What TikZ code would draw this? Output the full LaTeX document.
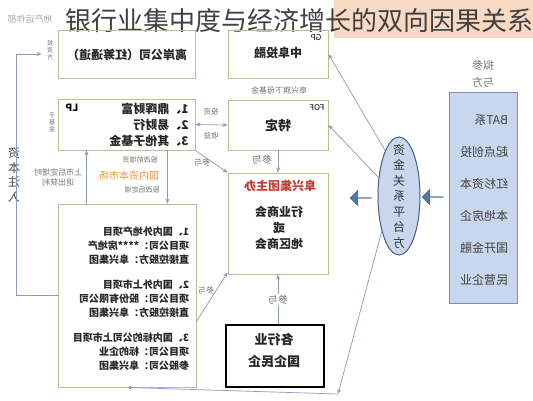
\documentclass[tikz,border=0pt]{standalone}
\usepackage{fontspec}
\setmainfont{Noto Sans CJK SC}
\usetikzlibrary{arrows.meta,shapes.geometric,shapes.arrows}

\definecolor{oliveb}{RGB}{190,190,140}
\definecolor{linkb}{RGB}{135,155,190}
\definecolor{paleb}{RGB}{200,215,238}
\definecolor{edgeb}{RGB}{70,95,130}
\definecolor{arrowb}{RGB}{75,120,175}
\definecolor{peach}{RGB}{248,218,196}
\definecolor{redt}{RGB}{200,60,50}
\definecolor{orangt}{RGB}{235,150,60}

\begin{document}
\begin{tikzpicture}[x=1pt,y=-1pt,
    flip/.style={xscale=-1},
    pane/.style={draw=oliveb, line width=0.9pt, inner sep=0pt},
    boxtxt/.style={flip, font=\bfseries\fontsize{12}{16}\selectfont, align=center, text=black!85},
    note/.style={flip, font=\fontsize{8}{10}\selectfont, text=black!55, align=center},
    link/.style={draw=linkb, line width=0.7pt, -{Stealth[length=5pt,width=4pt]}},
    twoway/.style={link, {Stealth[length=5pt,width=4pt]}-{Stealth[length=5pt,width=4pt]}},
    fat/.style={single arrow, fill=arrowb, draw=edgeb, minimum height=21pt, minimum width=15pt,
        single arrow head extend=3pt, inner sep=0pt, shape border rotate=180}
]
\fill[white] (0,0) rectangle (533,400);
\useasboundingbox (0,0) rectangle (533,400);

% Title
\fill[peach] (334,0) rectangle (533,38);
\node[text=black!35, flip, font=\fontsize{9}{10}\selectfont] (ghost) at (30,19) {地产运作部};
\node[text=black!75, font=\fontsize{26}{30}\selectfont, inner sep=0pt] (title) at (299,21) {银行业集中度与经济增长的双向因果关系};

% Boxes
\node[pane, minimum width=137, minimum height=48] (boxA) at (126.5,54) {};
\node[pane, minimum width=100, minimum height=48] (boxB) at (278,54) {};
\node[pane, minimum width=100, minimum height=50] (boxC) at (278,125) {};
\node[pane, minimum width=137, minimum height=51] (boxD) at (126.5,124.5) {};
\node[pane, minimum width=100, minimum height=101] (boxE) at (278,223.5) {};
\node[pane, minimum width=138, minimum height=183] (boxF) at (127,295.5) {};
\node[draw=black, line width=1.5pt, inner sep=0pt, minimum width=98, minimum height=62] (boxH) at (275,356) {};
\node[draw=edgeb!70, fill=paleb, line width=0.8pt, inner sep=0pt, minimum width=68, minimum height=211] (boxG) at (483,197.5) {};
\node[ellipse, draw=edgeb, fill=paleb, line width=1pt, inner sep=0pt, minimum width=42, minimum height=118] (hub) at (399,196) {};

% Box texts
\node[boxtxt] (txtA) at (127,55) {离岸公司（红筹通道）};
\node[boxtxt] (txtB) at (278,53) {中阜投融};
\node[flip, font=\fontsize{8}{9}\selectfont] (gp) at (316,38) {GP};
\node[note] (fofnote) at (279,90) {阜兴旗下母基金};
\node[flip, font=\fontsize{8}{9}\selectfont] (fof) at (317,108) {FOF};
\node[boxtxt, font=\bfseries\fontsize{13}{15}\selectfont] (txtC) at (278,125) {特定};
\node[flip, font=\bfseries\fontsize{10}{12}\selectfont] (lp) at (72,108) {LP};
\node[boxtxt, align=left] (txtD) at (149,125) {1、鼎晖财富\\2、易财行\\3、其他子基金};
\node[text=redt, flip, font=\bfseries\fontsize{12}{14}\selectfont] (txtEhead) at (280,186) {阜兴集团主办};
\node[boxtxt] (txtE) at (279,228) {行业商会\\或\\地区商会};
\node[boxtxt, align=left, font=\bfseries\fontsize{10}{14}\selectfont] (txtF) at (131,299)
    {1、国内外地产项目\\项目公司：****房地产\\直接控股方：阜兴集团\\[11pt]
     2、国内外上市项目\\项目公司：股份有限公司\\直接控股方：阜兴集团\\[11pt]
     3、国内标的公司上市项目\\项目公司：标的企业\\参股公司：阜兴集团};
\node[boxtxt, font=\bfseries\fontsize{13}{22}\selectfont] (txtH) at (274,351) {各行业\\国企民企};
\node[flip, align=left, text=black!75, font=\fontsize{12}{32}\selectfont] (txtG) at (484,200)
    {BAT系\\起点创投\\红杉资本\\本地房企\\国开金融\\民营企业};
\node[note, font=\fontsize{11}{17}\selectfont] (party) at (483,74) {拟参\\与方};
\node[flip, align=center, text=black!80, font=\fontsize{12}{15.5}\selectfont] (hubtxt) at (399,196) {资\\金\\关\\系\\平\\台\\方};

% Side labels
\node[note, font=\fontsize{6}{7}\selectfont] (sideA) at (50,50) {投\\资\\方};
\node[note, font=\fontsize{6}{7}\selectfont] (sideD) at (52,122) {子\\基\\金};
\node[flip, text=black!70, font=\fontsize{12}{14.5}\selectfont, align=center] (inject) at (14,175) {资\\本\\注\\入};
\node[note] (exitnote) at (58,177) {上市后定增时\\退出获利};
\node[note, font=\fontsize{7}{8}\selectfont] (pre) at (140,160) {股改前增资};
\node[flip, text=orangt, font=\fontsize{10}{12}\selectfont] (market) at (129,176) {国内资本市场};
\node[note, font=\fontsize{7}{8}\selectfont] (post) at (142,190) {股改后定增};
\node[note, font=\fontsize{7.5}{9}\selectfont] (invest) at (211,112) {投资};
\node[note, font=\fontsize{7.5}{9}\selectfont] (gain) at (211,136) {收益};
\node[note] (joinD) at (202,162) {参与};
\node[note, font=\fontsize{10}{12}\selectfont] (joinC) at (262,160) {参与};
\node[note] (joinF) at (206,290) {参与};

% Connectors
\draw[twoway] (boxD.east) -- (boxC.west);
\draw[link] (boxD.south east) -- (boxE.north west);
\draw[link] (boxC.south) -- (boxE.north);
\draw[link] ([xshift=29pt]boxF.north west) -- ([xshift=29pt]boxD.south west);
\draw[link] ([xshift=-28pt]boxD.south east) -- ([xshift=-29pt]boxF.north east);
\draw[link] (boxF.west) -- ++(-41,0) |- ([xshift=-16pt]boxA.west);
\draw[link] ([yshift=-26pt]boxF.east) -- ([yshift=2pt]boxE.south west);
\draw[link] (boxE.south |- boxH.north) -- (boxE.south) node[note, font=\fontsize{10}{12}\selectfont, midway, fill=white, inner sep=1pt] {参与};
\draw[link] (hub.107) -- (boxB.east);
\draw[link] (hub.138) -- (boxC.east);
\coordinate (sink) at (338,394);
\draw[link] (hub.244) -- (sink);
\draw[link] (sink) -- (boxF.south);

% Block arrows
\node[fat] (pushG) at (433,197) {};
\node[fat] (pushE) at (361,198) {};

\end{tikzpicture}
\end{document}
